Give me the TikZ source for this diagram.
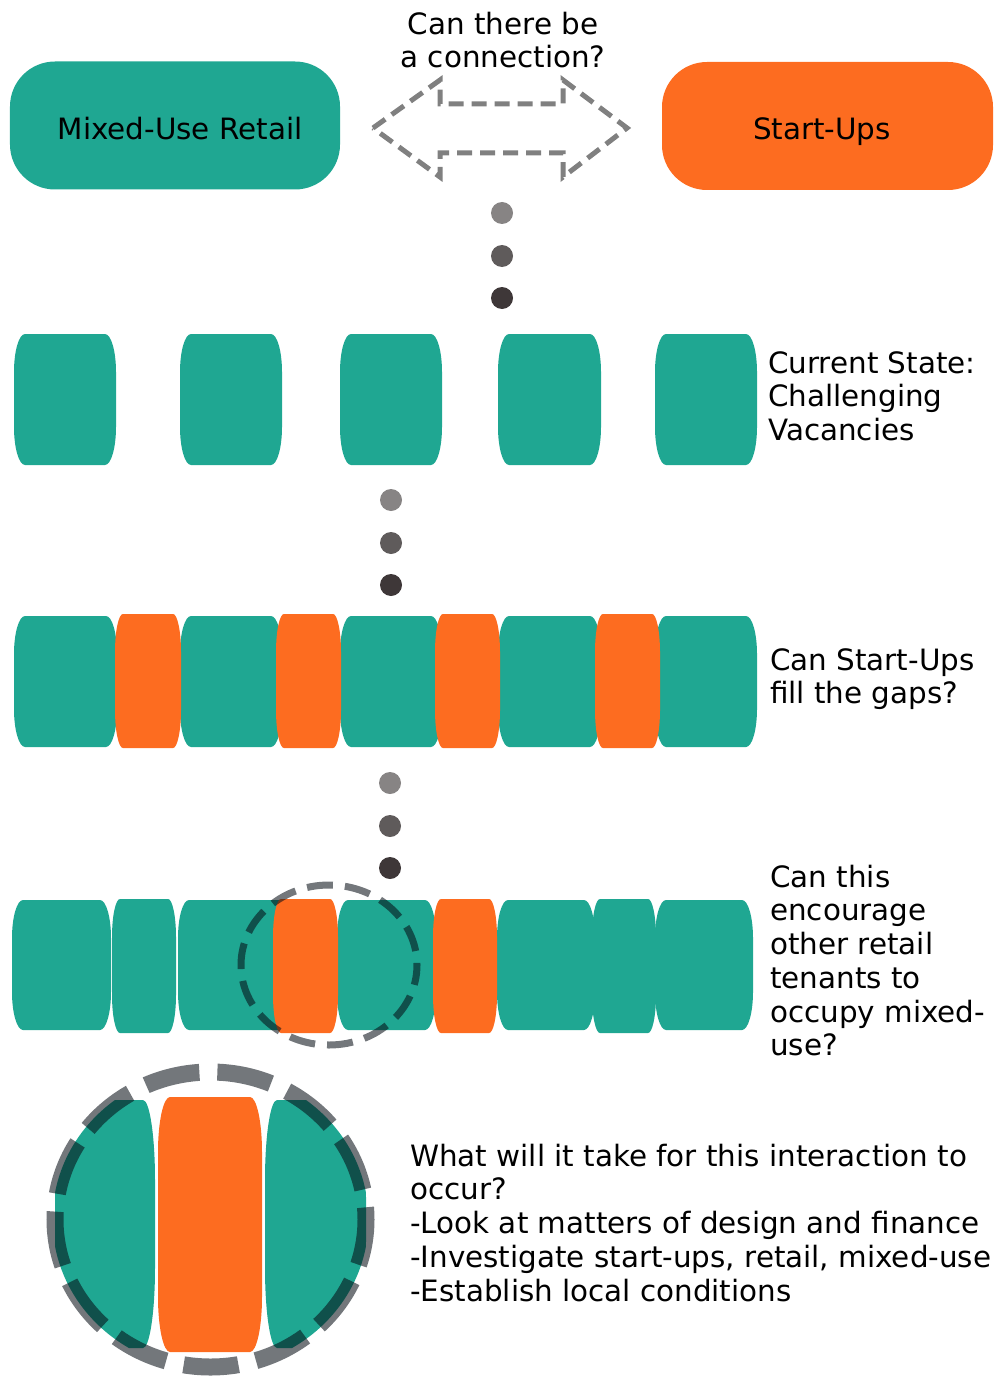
\documentclass[tikz,border=0pt]{standalone}
\usepackage{fontspec}
\setmainfont{DejaVu Sans}
\definecolor{tealc}{RGB}{31,167,146}
\definecolor{orangec}{RGB}{253,108,32}
\definecolor{arrowgray}{RGB}{128,128,128}
\definecolor{ringc}{RGB}{5,12,20}
\definecolor{dotA}{RGB}{135,132,132}
\definecolor{dotB}{RGB}{95,91,91}
\definecolor{dotC}{RGB}{62,55,56}
% barrel-shaped block: colour, x1, y1, x2, y2, corner rx, corner ry
\newcommand\blk[7]{%
  \fill[#1] (#2+#6,#3) -- (#4-#6,#3)
    .. controls (#4-0.448*#6,#3) and (#4,#3+0.448*#7) .. (#4,#3+#7)
    -- (#4,#5-#7)
    .. controls (#4,#5-0.448*#7) and (#4-0.448*#6,#5) .. (#4-#6,#5)
    -- (#2+#6,#5)
    .. controls (#2+0.448*#6,#5) and (#2,#5-0.448*#7) .. (#2,#5-#7)
    -- (#2,#3+#7)
    .. controls (#2,#3+0.448*#7) and (#2+0.448*#6,#3) .. (#2+#6,#3) -- cycle;}
\begin{document}
\begin{tikzpicture}[x=1bp,y=-1bp,
  txt/.style={font=\fontsize{29.5}{33.9}\selectfont, inner sep=0pt, text=black},
  topbox/.style={rounded corners=45bp, minimum width=330bp, minimum height=128bp, inner sep=0pt},
  ring/.style={draw=ringc, draw opacity=0.56}]
\useasboundingbox (0,0) rectangle (995,1379);

% ---- top row ----
\node[topbox, fill=tealc] (mur) at (175,125.5) {};
\node[txt, anchor=base] (murt) at (180,140) {Mixed-Use Retail};
\node[topbox, fill=orangec, minimum width=331bp] (su) at (827.5,126) {};
\node[txt, anchor=base] (sut) at (822,140) {Start-Ups};
\node[txt, anchor=north, align=center] (q0) at (503,34-23.73) {\strut Can there be\\a connection?};

% dashed double block arrow
\coordinate (al) at (373,128);
\coordinate (ar) at (627,128);
\draw[arrowgray, line width=5bp, dash pattern=on 15bp off 8bp, line join=miter]
  (al) -- (440,80) -- (440,104) -- (563,104) -- (563,80) -- (ar)
  -- (563,177) -- (563,153) -- (440,153) -- (440,177) -- cycle;

% dots 1
\fill[dotA] (502,213) circle[radius=11];
\fill[dotB] (502,256) circle[radius=11];
\fill[dotC] (502,298) circle[radius=11];

% ---- row 1: current state ----
\blk{tealc}{14}{334}{116}{465}{11}{38}
\blk{tealc}{180}{334}{282}{465}{11}{38}
\blk{tealc}{340}{334}{442}{465}{11}{38}
\blk{tealc}{498}{334}{601}{465}{11}{38}
\blk{tealc}{655}{334}{757}{465}{11}{38}
\node[txt, anchor=north west, align=left] (t1) at (768,373-23.73) {\strut Current State:\\Challenging\\Vacancies};

% dots 2
\fill[dotA] (391,500) circle[radius=11];
\fill[dotB] (391,543) circle[radius=11];
\fill[dotC] (391,585) circle[radius=11];

% ---- row 2: fill the gaps ----
\blk{tealc}{14}{616}{117}{747}{11}{38}
\blk{tealc}{180}{616}{282}{747}{11}{38}
\blk{tealc}{340}{616}{442}{747}{11}{38}
\blk{tealc}{498}{616}{601}{747}{11}{38}
\blk{tealc}{655}{616}{757}{747}{11}{38}
\blk{orangec}{115}{614}{181}{748}{8}{38}
\blk{orangec}{276}{614}{341}{748}{8}{38}
\blk{orangec}{435}{614}{500}{748}{8}{38}
\blk{orangec}{595}{614}{660}{748}{8}{38}
\node[txt, anchor=north west, align=left] (t2) at (770,670-23.73) {\strut Can Start-Ups\\fill the gaps?};

% dots 3
\fill[dotA] (390,783) circle[radius=11];
\fill[dotB] (390,826) circle[radius=11];
\fill[dotC] (390,868) circle[radius=11];

% ---- row 3: encourage other retail ----
\blk{tealc}{12}{900}{111}{1030}{11}{38}
\blk{tealc}{178}{900}{290}{1030}{11}{38}
\blk{tealc}{337}{900}{436}{1030}{11}{38}
\blk{tealc}{497}{900}{595}{1030}{11}{38}
\blk{tealc}{655}{900}{753}{1030}{11}{38}
\blk{tealc}{112}{899}{176}{1033}{8}{38}
\blk{tealc}{592}{899}{656}{1033}{8}{38}
\blk{orangec}{273}{899}{338}{1033}{8}{38}
\blk{orangec}{433}{899}{497}{1033}{8}{38}
\draw[ring, line width=7bp, dash pattern=on 26bp off 12bp, dash phase=6bp]
  (329,965) ellipse[x radius=88, y radius=80];
\node[txt, anchor=north west, align=left] (t3) at (770,887-23.73)
  {\strut Can this\\encourage\\other retail\\tenants to\\occupy mixed-\\use?};

% ---- bottom: close-up ----
\begin{scope}
  \clip (210.5,1219.5) ellipse[x radius=158, y radius=150];
  \blk{tealc}{55}{1100}{155}{1348}{12}{80}
  \blk{tealc}{265}{1100}{366}{1348}{12}{80}
\end{scope}
\blk{orangec}{158}{1097}{262}{1352}{12}{55}
\draw[ring, line width=17bp, dash pattern=on 55bp off 18bp, dash phase=9bp]
  (210.5,1219.5) ellipse[x radius=155.5, y radius=147.5];
\node[txt, anchor=north west, align=left] (t4) at (410,1166-23.73)
  {\strut What will it take for this interaction to\\occur?\\-Look at matters of design and finance\\-Investigate start-ups, retail, mixed-use\\-Establish local conditions};
\end{tikzpicture}
\end{document}
